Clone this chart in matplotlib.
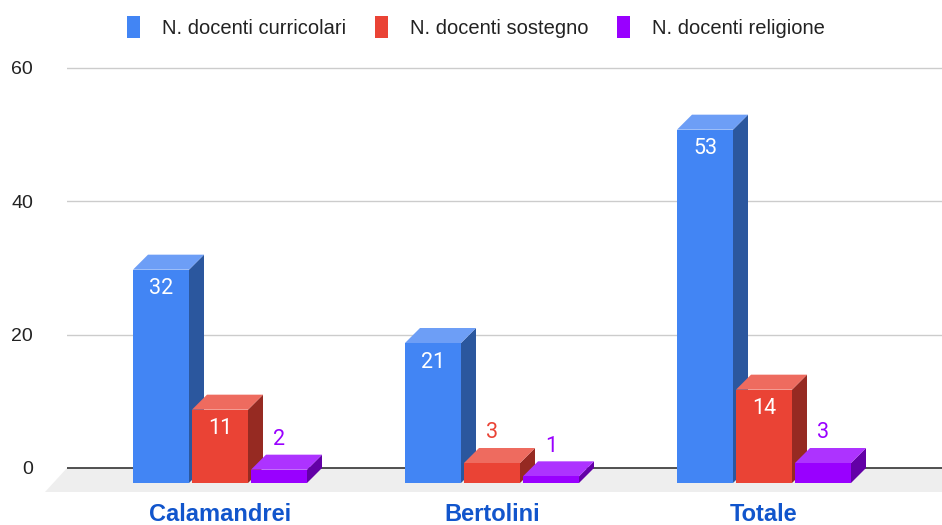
import matplotlib.pyplot as plt
import numpy as np
from matplotlib.patches import Polygon, Patch

# dati
categorie = ['Calamandrei', 'Bertolini', 'Totale']
serie = ['N. docenti curricolari', 'N. docenti sostegno', 'N. docenti religione']
curricolari = [32, 21, 53]
sostegno = [11, 3, 14]
religione = [2, 1, 3]
yticks = [0, 20, 40, 60]

valori = [curricolari, sostegno, religione]
# colori: fronte, lato, sopra
colori = [('#4285f4', '#2b579e', '#6d9ef6'),
          ('#ea4335', '#962a22', '#ee6b5f'),
          ('#9900ff', '#6300a6', '#ad33ff')]

W, H = 942, 525
fig = plt.figure(figsize=(W / 100, H / 100), dpi=100)

# assi in pixel
px_l, px_r, px_t, px_b = 67, 942, 55, 495
ax = fig.add_axes([px_l / W, 1 - px_b / H, (px_r - px_l) / W, (px_b - px_t) / H])
ppu_y = 400 / 60          # pixel per unità
ppu_x = 272               # pixel per categoria
y0_px = 468
ax.set_ylim((y0_px - px_b) / ppu_y, (y0_px - px_t) / ppu_y)
ax.set_xlim((px_l - 220) / ppu_x, (px_r - 220) / ppu_x)

dx = 15 / ppu_x
dy = 15 / ppu_y
step = 59 / ppu_x
w = 56 / ppu_x

x = np.arange(len(categorie))

# pavimento
xl, xr = ax.get_xlim()
floor_dy = 24 / ppu_y
floor_dx = 22 / ppu_x
ax.add_patch(Polygon([(xl, 0), (xr, 0), (xr, -floor_dy), (xl - floor_dx, -floor_dy)],
                     closed=True, facecolor='#eeeeee', edgecolor='none',
                     zorder=1, clip_on=False))

# griglia
for t in yticks[1:]:
    ax.axhline(t, color='#cccccc', lw=1, zorder=0.5)
ax.axhline(0, color='#333333', lw=1.2, zorder=1.5)

for gi in range(len(categorie)):
    for si in range(len(serie)):
        v = valori[si][gi]
        fc, sc, tc = colori[si]
        x0 = x[gi] + (si - 1) * step - w / 2
        x1 = x0 + w
        z = 2 + si * 0.1
        # lato
        ax.add_patch(Polygon([(x1, -dy), (x1 + dx, 0), (x1 + dx, v), (x1, v - dy)],
                             closed=True, facecolor=sc, edgecolor='none', zorder=z))
        # sopra
        ax.add_patch(Polygon([(x0, v - dy), (x0 + dx, v), (x1 + dx, v), (x1, v - dy)],
                             closed=True, facecolor=tc, edgecolor='none', zorder=z))
        # fronte
        ax.add_patch(Polygon([(x0, -dy), (x1, -dy), (x1, v - dy), (x0, v - dy)],
                             closed=True, facecolor=fc, edgecolor='none', zorder=z))
        xc = (x0 + x1) / 2
        if v >= 5:
            ax.text(xc, v - dy - 19 / ppu_y, str(v), color='white', fontsize=15.5,
                    family='Roboto', ha='center', va='center', zorder=5)
        else:
            ax.text(xc, v + 15 / ppu_y, str(v), color=fc, fontsize=15.5,
                    family='Roboto', ha='center', va='center', zorder=5)

ax.set_yticks(yticks)
ax.set_yticklabels([str(t) for t in yticks], fontsize=14, family='Liberation Sans',
                   color='#222222')
ax.set_xticks(x)
ax.set_xticklabels(categorie, fontsize=17, fontweight='bold', family='Liberation Sans',
                   color='#1155cc')
ax.tick_params(axis='y', length=0, pad=34 * 0.72)
ax.tick_params(axis='x', length=0, pad=6)
for s in ax.spines.values():
    s.set_visible(False)
ax.patch.set_alpha(0)

handles = [Patch(facecolor=c[0], edgecolor='none') for c in colori]
fig.legend(handles, serie, loc='center', bbox_to_anchor=(476 / W, 1 - 27 / H),
           ncol=3, frameon=False, prop={'family': 'Liberation Sans', 'size': 14.5},
           handlelength=0.65, handleheight=1.25, handletextpad=1.1, columnspacing=1.4,
           labelcolor='#222222')

fig.savefig('out.png', dpi=100)
